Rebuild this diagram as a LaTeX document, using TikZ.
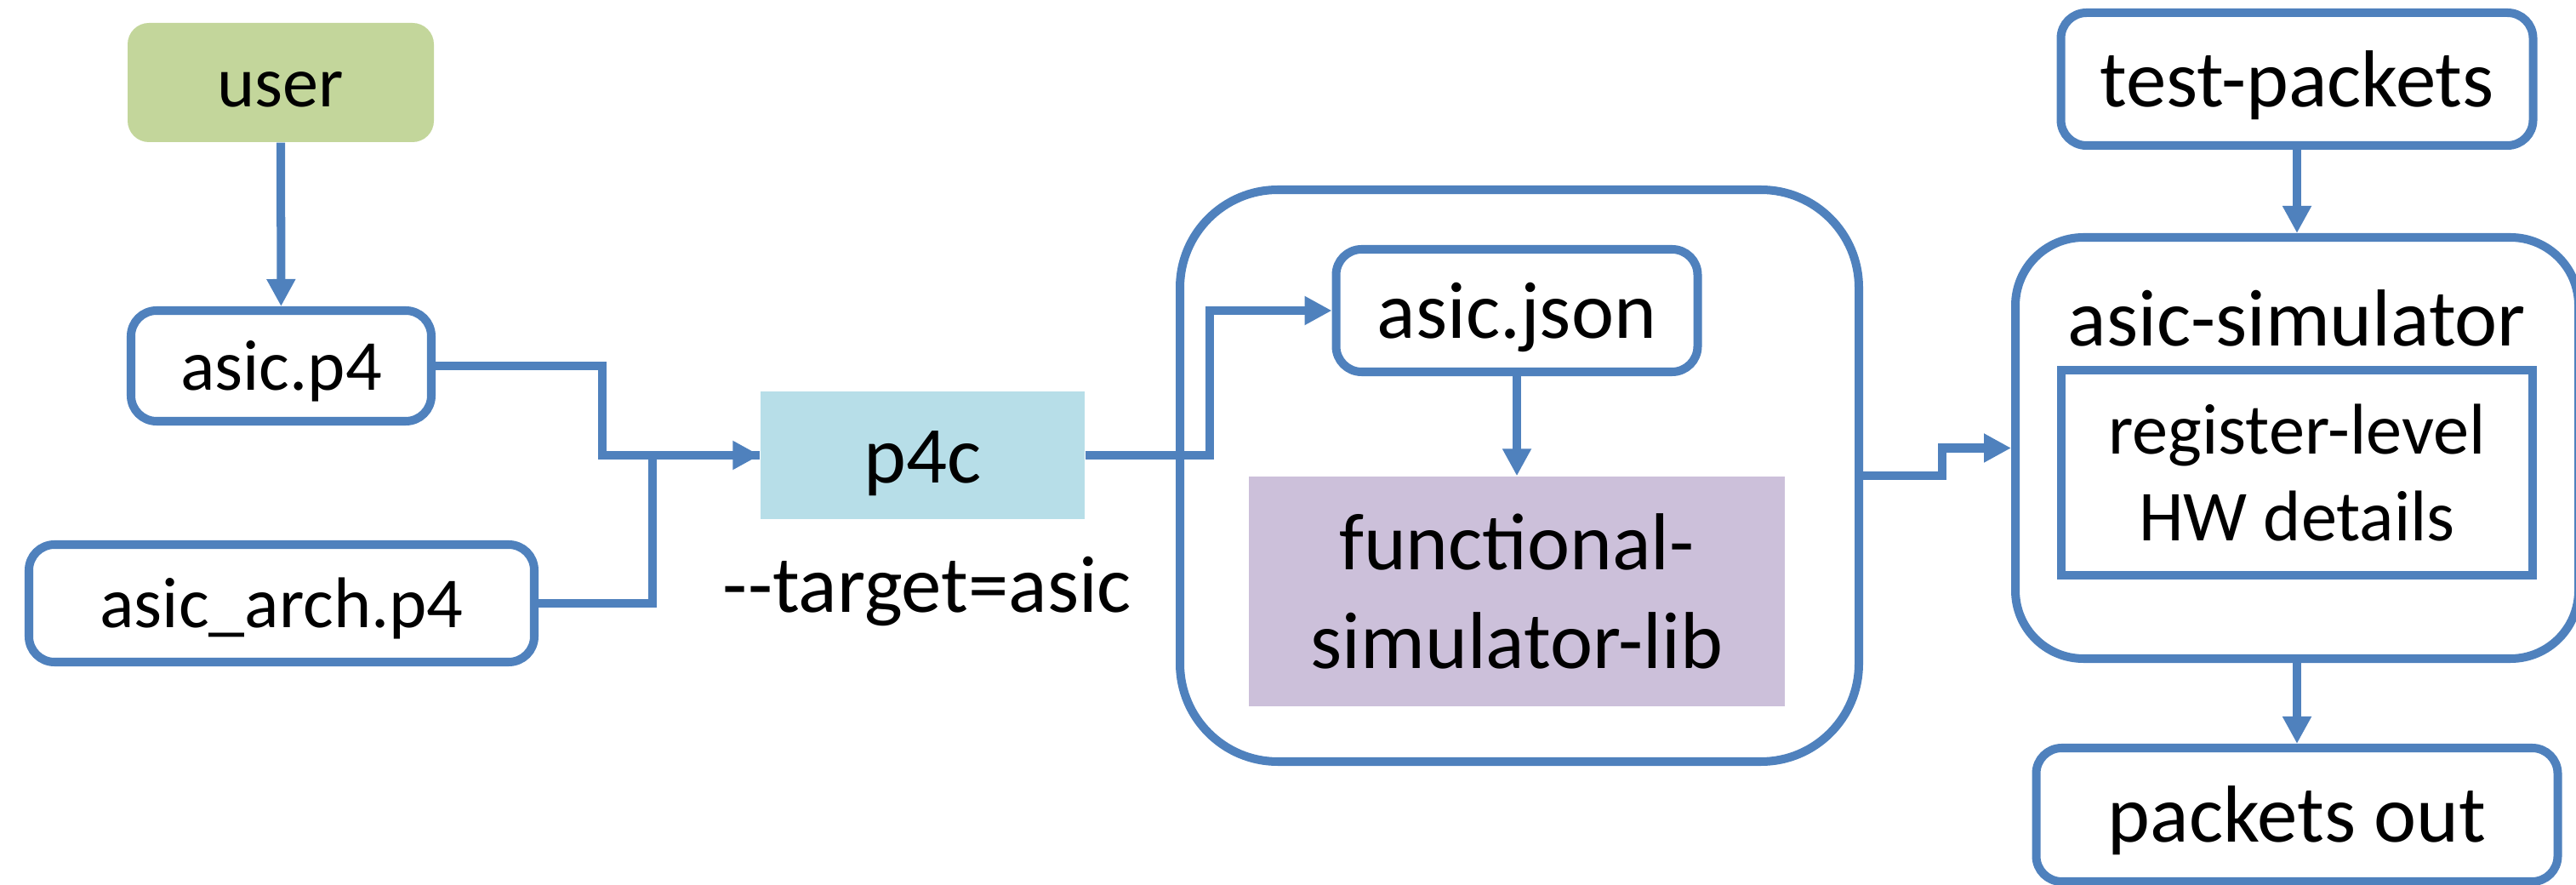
\documentclass[tikz,border=0pt]{standalone}
\usepackage{fontspec}
\setmainfont{Carlito}
\usepackage{tikz}
\usetikzlibrary{positioning,arrows.meta}
\definecolor{lineblue}{HTML}{4F81BD}
\definecolor{usergreen}{HTML}{C3D69B}
\definecolor{p4cblue}{HTML}{B7DEE8}
\definecolor{libpurple}{HTML}{CCC0DA}

\begin{document}
\begin{tikzpicture}[
    txt/.style={font=\fontsize{27}{33}\selectfont, inner sep=0pt, align=center},
    line27/.style={txt, text height=25.6pt, text depth=7.3pt},
    line24/.style={txt, font=\fontsize{24}{28}\selectfont, text height=22.8pt, text depth=6.5pt},
    blk/.style={draw=lineblue, line width=2.85pt, rounded corners=0.3cm, fill=white},
    cont/.style={draw=lineblue, line width=2.85pt, fill=white},
    arr/.style={-{Triangle[length=0.32cm, width=0.32cm]}, draw=lineblue, line width=2.85pt},
    conn/.style={draw=lineblue, line width=2.85pt}
  ]
  \useasboundingbox (0,0) rectangle (30.28,-10.40);

  % containers
  \node[cont, rounded corners=1.15cm, minimum width=7.98cm, minimum height=6.72cm] (bigbox) at (17.86,-5.59) {};
  \node[cont, rounded corners=0.8cm, minimum width=6.62cm, minimum height=4.95cm] (asicsim) at (27.0,-5.265) {};

  \node[line24, fill=usergreen, rounded corners=0.25cm, minimum width=3.6cm, minimum height=1.4cm] (user) at (3.3,-0.97) {user};
  \node[line24, blk, minimum width=3.53cm, minimum height=1.30cm] (asicp4) at (3.305,-4.30) {asic.p4};
  \node[line24, blk, minimum width=5.94cm, minimum height=1.38cm] (asicarch) at (3.31,-7.09) {asic\_arch.p4};
  \node[line27, fill=p4cblue, minimum width=3.81cm, minimum height=1.50cm] (p4c) at (10.845,-5.35) {p4c};
  \node[txt, anchor=base] (target) at (10.9,-7.20) {-\kern0pt-target=asic};

  \node[line27, blk, minimum width=4.25cm, minimum height=1.44cm] (asicjson) at (17.83,-3.65) {asic.json};
  \node[txt, fill=libpurple, minimum width=6.30cm, minimum height=2.70cm] (funclib) at (17.83,-6.95) {functional-\\simulator-lib};

  \node[line27, blk, minimum width=5.55cm, minimum height=1.56cm] (testpkts) at (27.0,-0.93) {test-packets};
  \node[txt, anchor=base] (simlabel) at (27.0,-4.07) {asic-simulator};
  \node[txt, font=\fontsize{24}{29}\selectfont, draw=lineblue, line width=2.85pt, minimum width=5.54cm, minimum height=2.41cm] (reglevel) at (27.0,-5.555) {register-level\\HW details};
  \node[line27, blk, minimum width=6.13cm, minimum height=1.57cm] (pktsout) at (27.0,-9.575) {packets out};

  % connectors
  \draw[arr] (user) -- (asicp4);
  \draw[conn] (asicarch.east) -- ++(1.34,0) |- (p4c.west);
  \draw[arr] (asicp4.east) -- ++(1.96,0) |- (p4c.west);
  \draw[arr] (p4c.east) -- ++(1.46,0) |- (asicjson.west);
  \draw[arr] (asicjson) -- (funclib);
  \draw[arr] (bigbox.east) -- ++(0.93,0) |- (asicsim.west);
  \draw[arr] (testpkts) -- (asicsim);
  \draw[arr] (asicsim) -- (pktsout);
\end{tikzpicture}
\end{document}
